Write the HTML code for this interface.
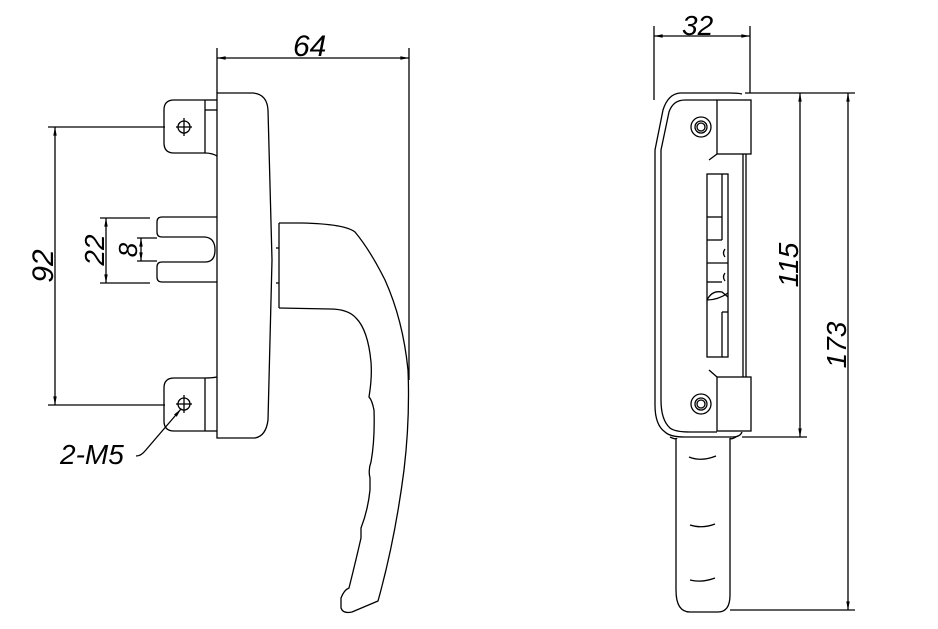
<!DOCTYPE html>
<html><head><meta charset="utf-8"><style>
html,body{margin:0;padding:0;background:#fff;}
svg{display:block;}
text{font-family:"Liberation Sans",sans-serif;font-style:italic;fill:#000;}
</style></head><body>
<svg width="938" height="629" viewBox="0 0 938 629" xmlns="http://www.w3.org/2000/svg" fill="none" stroke="#000" stroke-width="1.3">
<defs>
<marker id="a" viewBox="0 0 10 6" refX="10" refY="3" markerWidth="8" markerHeight="4" orient="auto-start-reverse"><path d="M0,1 L10,3 L0,5z" fill="#000" stroke="none"/></marker>
</defs>
<line x1="217" y1="48" x2="217" y2="93"/>
<line x1="409" y1="48" x2="409" y2="380"/>
<line x1="217" y1="58" x2="409" y2="58" marker-start="url(#a)" marker-end="url(#a)"/>
<text x="293" y="56" font-size="30" stroke="none">64</text>
<path d="M205,100 H174 Q164,100 164,110 V143 Q164,153 174,153 H205 Q212,153 217,156"/>
<line x1="205" y1="100" x2="205" y2="153"/>
<line x1="205" y1="110" x2="217" y2="110"/>
<line x1="205" y1="100" x2="217" y2="100"/>
<path d="M217,377 Q212,378 205,378 H174 Q164,378 164,388 V421 Q164,431 174,431 H205"/>
<line x1="205" y1="378" x2="205" y2="431"/>
<line x1="205" y1="431" x2="217" y2="431"/>
<circle cx="184" cy="127" r="6"/><line x1="176" y1="127" x2="192" y2="127"/><line x1="184" y1="118" x2="184" y2="136"/>
<circle cx="184" cy="404" r="6"/><line x1="176" y1="404" x2="192" y2="404"/><line x1="184" y1="395" x2="184" y2="413"/>
<path d="M217,93 H253 Q267,94 268,110 L272,260 L268,420 Q266,436 255,438 H217 Z"/>
<path d="M217,217 H162 Q157,217 157,222 V232 Q157,237 162,237 H205 Q215,238 215,250 Q215,262 205,262 H162 Q157,262 157,267 V277 Q157,282 162,282 H217"/>
<path d="M279,223 V308"/>
<line x1="276" y1="248" x2="279" y2="248"/><line x1="276" y1="283" x2="279" y2="283"/>
<path d="M279,223 L302,223 Q345,224 355,232 Q370,250 385,280 Q403,320 408,370 Q410,420 404,470 Q395,540 378,601 L352,612 Q343,614 341,608 L341,598 Q344,590 349,588 Q356,560 361,538 L361,528 Q368,510 370,490 L370,478 Q368,470 371,462 Q375,440 374,410 Q372,400 369,397 L370,390 Q372,375 371,362 Q368,330 356,318 Q348,309 330,309 L279,308"/>
<line x1="48" y1="127" x2="165" y2="127"/>
<line x1="48" y1="405" x2="165" y2="405"/>
<line x1="55" y1="127" x2="55" y2="405" marker-start="url(#a)" marker-end="url(#a)"/>
<text transform="translate(53,266) rotate(-90)" text-anchor="middle" font-size="30" stroke="none">92</text>
<line x1="100" y1="218" x2="150" y2="218"/>
<line x1="100" y1="283" x2="150" y2="283"/>
<line x1="106" y1="218" x2="106" y2="283" marker-start="url(#a)" marker-end="url(#a)"/>
<text transform="translate(104,250) rotate(-90)" text-anchor="middle" font-size="28" stroke="none">22</text>
<line x1="137" y1="238" x2="157" y2="238"/>
<line x1="137" y1="261" x2="157" y2="261"/>
<line x1="141" y1="238" x2="141" y2="261" marker-start="url(#a)" marker-end="url(#a)"/>
<text transform="translate(137,250) rotate(-90)" text-anchor="middle" font-size="26" stroke="none">8</text>
<path d="M181,409 L145,451 Q141,456 136,456" marker-start="url(#a)"/>
<text x="60" y="464" font-size="28" stroke="none">2-M5</text>

<line x1="654" y1="26" x2="654" y2="100"/>
<line x1="750" y1="26" x2="750" y2="93"/>
<line x1="654" y1="36" x2="750" y2="36" marker-start="url(#a)" marker-end="url(#a)"/>
<text x="682" y="35" font-size="28" stroke="none">32</text>
<path d="M742,94 Q738,93 730,93 H680 Q668,94 663,110 L655,150 V405 Q655,425 665,432 Q670,437 685,437 H733 Q740,437 742,432"/>
<path d="M717,100 H685 Q673,100 669,112 L661,150 V400 Q661,420 670,428 Q675,432 690,432 H717"/>
<rect x="717" y="100" width="34" height="54"/>
<rect x="717" y="377" width="34" height="54"/>
<line x1="743" y1="154" x2="743" y2="377"/>
<line x1="746" y1="154" x2="746" y2="377"/>
<line x1="709" y1="160" x2="717" y2="154"/>
<line x1="709" y1="370" x2="717" y2="377"/>
<circle cx="701" cy="127" r="10"/><circle cx="701" cy="127" r="6"/><circle cx="701" cy="127" r="4"/>
<circle cx="701" cy="404" r="10"/><circle cx="701" cy="404" r="6"/><circle cx="701" cy="404" r="4"/>
<rect x="707" y="174" width="21" height="183"/>
<line x1="722" y1="174" x2="722" y2="220"/>
<line x1="722" y1="312" x2="722" y2="357"/>
<line x1="707" y1="217" x2="722" y2="217"/>
<line x1="707" y1="240" x2="722" y2="240"/>
<line x1="707" y1="263" x2="728" y2="263"/>
<line x1="707" y1="282" x2="722" y2="282"/>
<line x1="722" y1="312" x2="728" y2="312"/>
<path d="M722,220 V240 M707,300 Q712,290 722,292 L728,297 M707,300 Q718,300 728,293"/>
<path d="M725,249 Q722,253 725,257 M725,273 Q722,277 725,281"/>
<path d="M676,438 V590 Q676,612 690,612 H718 Q730,612 730,595 V438"/>
<path d="M670,437 Q676,440 677,438 M736,437 Q731,440 730,438"/>
<path d="M689,457 Q701,462 716,456 M690,525 Q702,529 715,524 M690,580 Q702,583 715,578"/>
<line x1="745" y1="93" x2="855" y2="93"/>
<line x1="742" y1="437" x2="807" y2="437"/>
<line x1="730" y1="610" x2="855" y2="610"/>
<line x1="800" y1="93" x2="800" y2="437" marker-start="url(#a)" marker-end="url(#a)"/>
<line x1="848" y1="93" x2="848" y2="610" marker-start="url(#a)" marker-end="url(#a)"/>
<text transform="translate(798,265) rotate(-90)" text-anchor="middle" font-size="28" stroke="none">115</text>
<text transform="translate(846,345) rotate(-90)" text-anchor="middle" font-size="28" stroke="none">173</text>
</svg>
</body></html>
